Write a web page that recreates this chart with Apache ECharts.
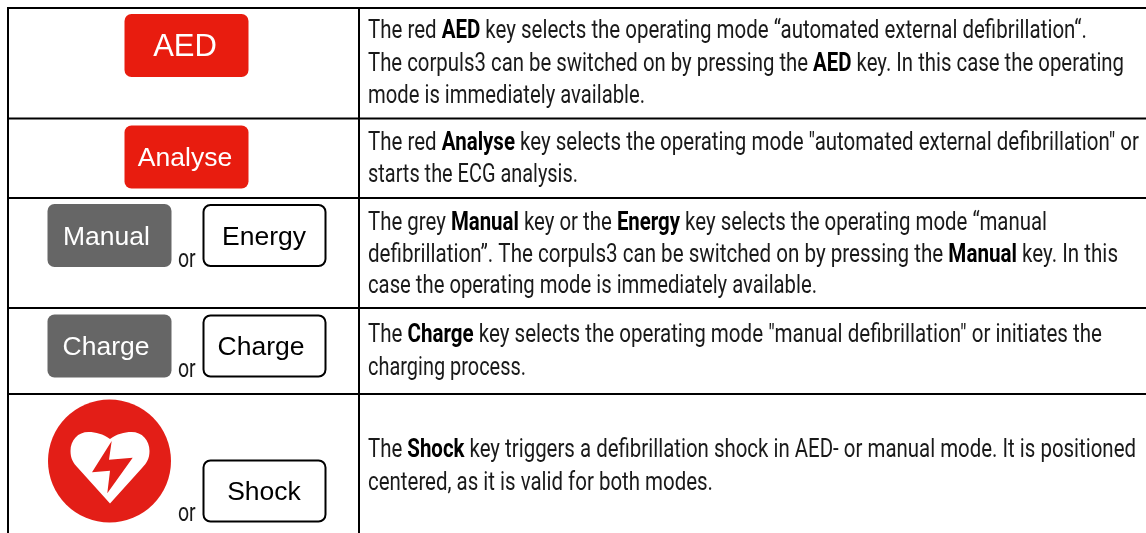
<!DOCTYPE html>
<html>
<head>
<meta charset="utf-8">
<script src="https://cdn.jsdelivr.net/npm/echarts@6/dist/echarts.min.js"></script>
<style>html,body{margin:0;padding:0;background:#fff}#main{width:1146px;height:533px}</style>
</head>
<body>
<div id="main"></div>
<script>
// table content
const rowTexts = [
  ['The red {b|AED} key selects the operating mode “automated external defibrillation“.',
   'The corpuls3 can be switched on by pressing the {b|AED} key. In this case the operating',
   'mode is immediately available.'],
  ['The red {b|Analyse} key selects the operating mode "automated external defibrillation" or',
   'starts the ECG analysis.'],
  ['The grey {b|Manual} key or the {b|Energy} key selects the operating mode “manual',
   'defibrillation”. The corpuls3 can be switched on by pressing the {b|Manual} key. In this',
   'case the operating mode is immediately available.'],
  ['The {b|Charge} key selects the operating mode "manual defibrillation" or initiates the',
   'charging process.'],
  ['The {b|Shock} key triggers a defibrillation shock in AED- or manual mode. It is positioned',
   'centered, as it is valid for both modes.']
]
const keyLabels = ['AED', 'Analyse', 'Manual', 'Energy', 'Charge', 'Charge', 'Shock']
const keyKinds = ['red', 'red', 'grey', 'white', 'grey', 'white', 'white']
const orLabel = 'or'

// layout
const textLeft = 368
const lineMiddles = [[32, 65, 97], [144, 176], [224, 256, 287], [336, 369], [451, 484]]
const lineEnds = [[1087, 1124, 645], [1139, 578], [1047, 1118, 817], [1102, 526], [1136, 713]]
const keyBoxes = [
  [124.5, 14, 124, 63, 31], [124.5, 125.5, 124, 63, 26.5],
  [47.5, 204, 124, 63, 26.5], [203.5, 205, 122, 61, 26.5],
  [47.5, 314.5, 124, 63, 26.5], [203.5, 315.5, 122, 61, 26.5],
  [203.5, 460.5, 122, 61, 26.5]
]
const labelCentres = [185, 185, 106.5, 264, 106, 261, 264]
const orSpots = [[178, 261], [178, 371], [178, 515]]
const hLines = [8, 118.5, 198, 308, 394]
const vLines = [8, 359]

const bodySize = 25
const bodyFont = '400 ' + bodySize + 'px Roboto'
const boldFont = '700 ' + bodySize + 'px Roboto'
const ctx = document.createElement('canvas').getContext('2d')
const measure = (line) => {
  let w = 0
  line.split(/(\{b\|[^}]*\})/).forEach((part) => {
    const bold = part.startsWith('{b|')
    ctx.font = bold ? boldFont : bodyFont
    w += ctx.measureText(bold ? part.slice(3, -1) : part).width
  })
  return w
}

// graphic has no plain path type, so the heart goes in as a registered shape
echarts.graphic.registerShape('heart', echarts.graphic.extendShape({
  buildPath (c) {
    c.moveTo(110, 439)
    c.bezierCurveTo(103, 434, 96, 432, 88.5, 432)
    c.bezierCurveTo(78, 432, 70.5, 440, 70.5, 451)
    c.bezierCurveTo(70.5, 458, 73, 463, 78, 468)
    c.lineTo(110, 503.5)
    c.lineTo(142, 468)
    c.bezierCurveTo(147, 463, 149.5, 458, 149.5, 451)
    c.bezierCurveTo(149.5, 440, 142, 432, 131.5, 432)
    c.bezierCurveTo(124, 432, 117, 434, 110, 439)
    c.closePath()
  }
}))

const chart = echarts.init(document.getElementById('main'), null, { renderer: 'canvas' })
const elements = []

hLines.forEach((y) => elements.push({
  type: 'line', shape: { x1: 7, y1: y, x2: 1146, y2: y }, style: { stroke: '#000', lineWidth: 2 }
}))
vLines.forEach((x) => elements.push({
  type: 'line', shape: { x1: x, y1: 7, x2: x, y2: 533 }, style: { stroke: '#000', lineWidth: 2 }
}))

rowTexts.forEach((lines, r) => {
  lines.forEach((line, i) => {
    elements.push({
      type: 'text', x: textLeft, y: lineMiddles[r][i],
      scaleX: (lineEnds[r][i] - textLeft) / measure(line),
      style: {
        text: line, fill: '#1a1a1a', verticalAlign: 'middle', font: bodyFont,
        rich: { b: { font: boldFont, fill: '#000' } }
      }
    })
  })
})

const kindStyle = {
  red: { fill: '#e81c0f', text: '#fff' },
  grey: { fill: '#666666', text: '#fff' },
  white: { fill: '#fff', stroke: '#000', lineWidth: 2, text: '#000' }
}
keyLabels.forEach((label, i) => {
  const [x, y, w, h, size] = keyBoxes[i]
  const k = kindStyle[keyKinds[i]]
  elements.push({
    type: 'rect', shape: { x, y, width: w, height: h, r: 7 },
    style: { fill: k.fill, stroke: k.stroke, lineWidth: k.lineWidth || 0 }
  })
  elements.push({
    type: 'text', x: labelCentres[i], y: y + h / 2 + 2,
    style: {
      text: label, fill: k.text, align: 'center', verticalAlign: 'middle',
      font: size + 'px "Liberation Sans"'
    }
  })
})

orSpots.forEach(([x, y]) => elements.push({
  type: 'text', x, y, scaleX: 0.78,
  style: { text: orLabel, fill: '#1a1a1a', verticalAlign: 'middle', font: bodyFont }
}))

// shock symbol
elements.push({ type: 'circle', shape: { cx: 109.5, cy: 461, r: 61.5 }, style: { fill: '#e31e17' } })
elements.push({ type: 'heart', shape: {}, style: { fill: '#fff' } })
elements.push({
  type: 'polygon',
  shape: { points: [[111.7, 441], [92, 472.3], [110, 470.7], [107.3, 493.3], [132.7, 457.7], [109, 459.7]] },
  style: { fill: '#e31e17' }
})

chart.setOption({ animation: false, graphic: { elements } })
</script>
</body>
</html>
